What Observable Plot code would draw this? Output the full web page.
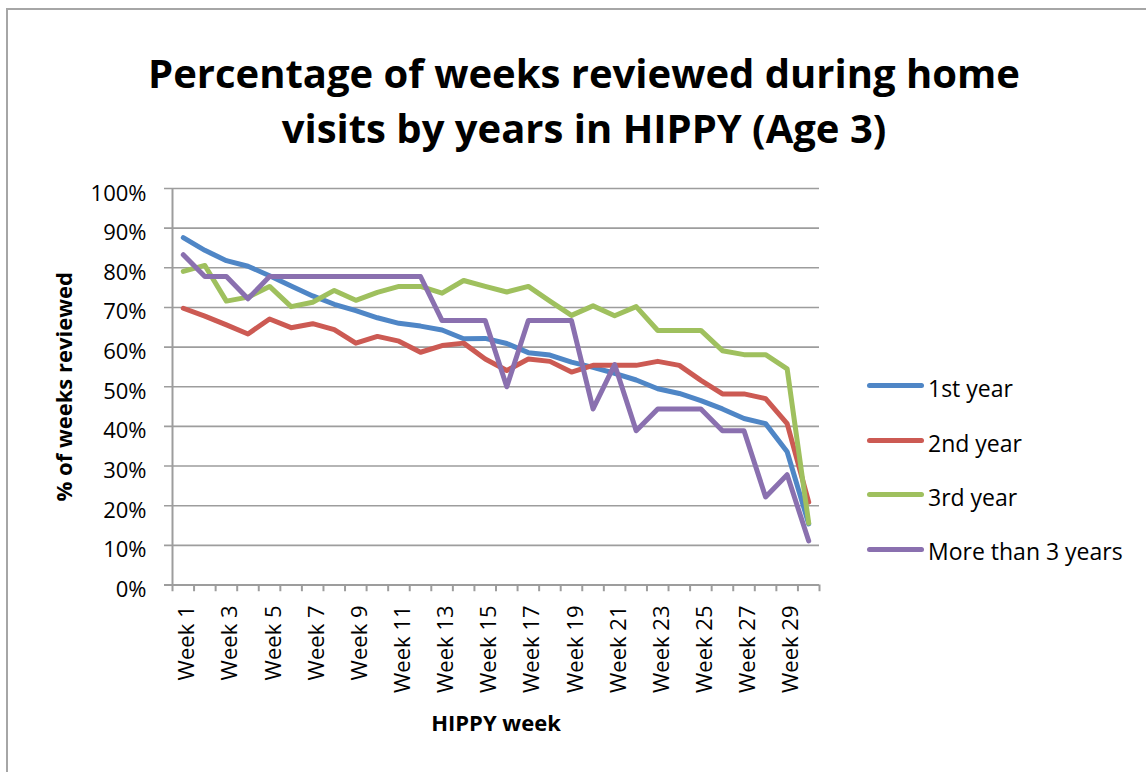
<!DOCTYPE html>
<html>
<head>
<meta charset="utf-8">
<script src="https://cdn.jsdelivr.net/npm/d3@7"></script>
<script src="https://cdn.jsdelivr.net/npm/@observablehq/plot@0.6"></script>
<style>
  html, body { margin: 0; padding: 0; background: #fff; overflow: hidden; }
  body { font-family: "Open Sans", sans-serif; color: #000; }
  #chart { position: relative; width: 1146px; height: 772px; overflow: hidden; }
  #frame { position: absolute; left: 6px; top: 8px; width: 1300px; height: 900px;
           border-top: 2px solid #a6a6a6; border-left: 2px solid #a6a6a6; }
  #title { position: absolute; left: 11px; top: 45px; width: 1146px; text-align: center;
           font-weight: 700; font-size: 40px; line-height: 55px; }
  #plot { position: absolute; left: 0; top: 160px; }
  .sw { position: absolute; left: 867px; width: 57px; height: 5px; border-radius: 3px; }
  .lb { position: absolute; left: 928px; font-size: 23px; line-height: 30px; white-space: nowrap; }
</style>
</head>
<body>
<div id="chart">
  <div id="frame"></div>
  <div id="title">Percentage of weeks reviewed during home<br>visits by years in HIPPY (Age 3)</div>
  <div id="plot"></div>
  <div id="legend"></div>
</div>
<script>
const weeks = ["Week 1","Week 2","Week 3","Week 4","Week 5","Week 6","Week 7","Week 8","Week 9","Week 10",
  "Week 11","Week 12","Week 13","Week 14","Week 15","Week 16","Week 17","Week 18","Week 19","Week 20",
  "Week 21","Week 22","Week 23","Week 24","Week 25","Week 26","Week 27","Week 28","Week 29","Week 30"];
const xTickLabels = ["Week 1","Week 3","Week 5","Week 7","Week 9","Week 11","Week 13","Week 15",
  "Week 17","Week 19","Week 21","Week 23","Week 25","Week 27","Week 29"];
const yTicks = [0,10,20,30,40,50,60,70,80,90,100];

const seriesNames = ["1st year","2nd year","3rd year","More than 3 years"];
const seriesColors = ["#4F86C6","#CC5A53","#9FC05E","#8A70AF"];

const firstYear = [87.6,84.4,81.8,80.4,78.0,75.4,72.9,70.8,69.2,67.4,
  66.0,65.3,64.3,62.1,62.2,60.9,58.6,58.0,56.2,54.9,
  53.4,51.7,49.5,48.3,46.5,44.4,42.0,40.7,33.6,15.4];
const secondYear = [69.8,67.8,65.6,63.3,67.1,64.9,65.9,64.4,61.0,62.7,
  61.5,58.7,60.4,61.0,57.0,54.1,57.0,56.4,53.7,55.4,
  55.4,55.4,56.4,55.4,51.6,48.2,48.2,47.0,40.7,20.9];
const thirdYear = [79.1,80.6,71.6,72.6,75.3,70.2,71.3,74.3,71.8,73.8,
  75.3,75.3,73.6,76.8,75.3,73.9,75.3,71.6,68.0,70.4,
  67.9,70.2,64.2,64.2,64.2,59.1,58.1,58.1,54.5,15.6];
const moreThan3 = [83.3,77.8,77.8,72.2,77.8,77.8,77.8,77.8,77.8,77.8,
  77.8,77.8,66.7,66.7,66.7,50.0,66.7,66.7,66.7,44.4,
  55.6,38.9,44.4,44.4,44.4,38.9,38.9,22.2,27.8,11.1];

const seriesValues = [firstYear, secondYear, thirdYear, moreThan3];
const rows = [];
seriesNames.forEach((s, k) => seriesValues[k].forEach((v, i) =>
  rows.push({series: s, week: weeks[i], pos: i + 1, value: v})));

// category positions (1-based) on a band-like linear axis
const weekPos = weeks.map((w, i) => i + 1);
const labelPos = xTickLabels.map(l => weeks.indexOf(l) + 1);
const boundaries = [...weekPos.map(p => p - 0.5), weeks.length + 0.5];

const W = 1146, H = 612, mL = 172, mR = 327, mT = 28, mB = 187.5;
const grey = "#9d9d9d";

const chart = Plot.plot({
  width: W, height: H,
  marginLeft: mL, marginRight: mR, marginTop: mT, marginBottom: mB,
  style: {fontFamily: "Open Sans, sans-serif", background: "transparent", overflow: "visible", color: "#000"},
  x: {type: "linear", domain: [0.5, weeks.length + 0.5], axis: null},
  y: {domain: [0, 100], axis: null},
  color: {domain: seriesNames, range: seriesColors},
  marks: [
    Plot.ruleY(yTicks.filter(d => d > 0), {y: d => d, stroke: grey, strokeWidth: 1.6, insetLeft: -8}),
    Plot.ruleY([0], {y: d => d, stroke: grey, strokeWidth: 2, insetLeft: -8}),
    Plot.ruleX([boundaries[0]], {x: d => d, y1: -1.7, y2: 100, stroke: grey, strokeWidth: 2}),
    Plot.ruleX(boundaries.slice(1), {x: d => d, y1: -1.7, y2: 0, stroke: grey, strokeWidth: 2}),
    Plot.line(rows, {x: "pos", y: "value", z: "series", stroke: "series",
      strokeWidth: 5, strokeLinecap: "round", strokeLinejoin: "round"}),
    Plot.text(yTicks, {y: d => d, text: d => d + "%", frameAnchor: "left", textAnchor: "end",
      dx: -26, dy: 5, fontSize: 22, fill: "#000"}),
    Plot.text(labelPos, {x: d => d, y: 0, text: (d, i) => xTickLabels[i], rotate: -90, textAnchor: "end",
      dx: 4, dy: 20.5, fontSize: 22, fill: "#000"}),
    Plot.text(["% of weeks reviewed"], {y: 50, text: d => d, frameAnchor: "left", textAnchor: "middle",
      rotate: -90, dx: -108, fontSize: 22, fontWeight: 700, fill: "#000"}),
    Plot.text(["HIPPY week"], {text: d => d, frameAnchor: "bottom", textAnchor: "middle", dy: 146,
      fontSize: 22, fontWeight: 700, fill: "#000"})
  ]
});
document.getElementById("plot").appendChild(chart);

const legendY = [385.5, 440.5, 494.8, 549];
const legend = document.getElementById("legend");
seriesNames.forEach((s, k) => {
  const sw = document.createElement("div");
  sw.className = "sw";
  sw.style.top = (legendY[k] - 2.5) + "px";
  sw.style.background = seriesColors[k];
  legend.appendChild(sw);
  const lb = document.createElement("div");
  lb.className = "lb";
  lb.style.top = (legendY[k] - 12.7) + "px";
  lb.textContent = s;
  legend.appendChild(lb);
});
</script>
</body>
</html>
